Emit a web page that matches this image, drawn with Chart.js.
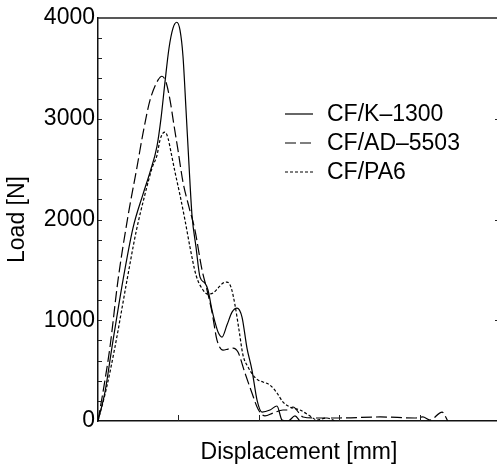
<!DOCTYPE html>
<html>
<head>
<meta charset="utf-8">
<script src="https://cdn.jsdelivr.net/npm/chart.js@4"></script>
<style>
  html, body { margin: 0; padding: 0; background: #fff; overflow: hidden; }
  canvas { display: block; }
</style>
</head>
<body>
<canvas id="chart" width="502" height="470"></canvas>
<script>
// displacement [mm] and load [N]
const k1300X = [0, 0.087, 0.174, 0.311, 0.435, 0.56, 0.647, 0.734, 0.784, 0.833, 0.883, 0.933, 0.979, 1.02, 1.057, 1.095, 1.132, 1.169, 1.219, 1.269, 1.331, 1.368, 1.418, 1.455, 1.493, 1.542, 1.604, 1.667, 1.729, 1.791, 1.853, 1.915, 1.978, 2.04, 2.139, 2.226, 2.289, 2.363, 2.45, 2.51];
const k1300Y = [0, 288, 734, 1399, 1915, 2252, 2470, 2728, 3006, 3363, 3700, 3899, 3958, 3879, 3621, 3085, 2540, 2044, 1726, 1428, 1369, 1300, 1101, 982, 883, 833, 952, 1081, 1121, 1032, 724, 506, 208, 89, 109, 149, 10, 0, 50, 0];

const ad5503X = [0, 0.087, 0.149, 0.249, 0.373, 0.485, 0.56, 0.647, 0.746, 0.796, 0.846, 0.896, 0.945, 0.995, 1.057, 1.132, 1.206, 1.294, 1.356, 1.418, 1.48, 1.555, 1.617, 1.679, 1.741, 1.828, 1.915, 1.99, 2.077, 2.177, 2.301, 2.363, 2.425, 2.55, 2.7, 3.01, 3.51, 3.94, 4.04, 4.13, 4.28, 4.35];
const ad5503Y = [0, 407, 734, 1399, 2033, 2520, 2857, 3184, 3383, 3422, 3363, 3184, 2936, 2688, 2371, 2123, 1895, 1498, 1300, 1081, 803, 704, 714, 724, 684, 476, 278, 119, 50, 79, 109, 109, 139, 40, 30, 30, 40, 30, 40, 10, 89, 0];

const pa6X = [0, 0.1, 0.211, 0.361, 0.473, 0.585, 0.672, 0.734, 0.771, 0.808, 0.833, 0.871, 0.908, 0.958, 1.02, 1.082, 1.144, 1.219, 1.306, 1.368, 1.43, 1.493, 1.555, 1.604, 1.654, 1.704, 1.754, 1.803, 1.866, 1.928, 1.99, 2.052, 2.139, 2.226, 2.301, 2.388, 2.512, 2.637, 2.724, 2.848, 2.95];
const pa6Y = [0, 308, 734, 1399, 1875, 2252, 2510, 2639, 2788, 2857, 2867, 2807, 2668, 2470, 2242, 1994, 1726, 1448, 1300, 1260, 1270, 1319, 1369, 1379, 1329, 1151, 903, 655, 536, 456, 407, 387, 357, 278, 188, 139, 109, 50, 10, 30, 0];

const seriesNames = ["CF/K\u20131300", "CF/AD\u20135503", "CF/PA6"];
const dashes = [[], [11, 4], [3, 2]];
const yTicks = [0, 1000, 2000, 3000, 4000];
const xTicks = [1, 2, 3, 4];

const FONT = "'Liberation Sans', Arial, sans-serif";

function toPoints(xs, ys) {
  return xs.map((x, i) => ({ x: x, y: ys[i] }));
}

// inward tick marks, top/right frame and the legend inside the plot
const frameAndLegend = {
  id: "frameAndLegend",
  afterDraw(chart) {
    const ctx = chart.ctx;
    const area = chart.chartArea;
    const xs = chart.scales.x;
    const ys = chart.scales.y;
    ctx.save();
    ctx.strokeStyle = "#222";
    ctx.lineWidth = 1.3;
    ctx.beginPath();
    ctx.moveTo(area.left, area.top);
    ctx.lineTo(area.right, area.top);
    ctx.lineTo(area.right, area.bottom);
    ctx.stroke();

    ctx.lineWidth = 1;
    ctx.beginPath();
    for (let v = 200; v < 4000; v += 200) {
      const py = Math.round(ys.getPixelForValue(v)) + 0.5;
      ctx.moveTo(area.left, py);
      ctx.lineTo(area.left + 4, py);
      const len = v % 1000 === 0 ? 5 : 2;
      ctx.moveTo(area.right, py);
      ctx.lineTo(area.right - len, py);
    }
    xTicks.forEach((v) => {
      const px = Math.round(xs.getPixelForValue(v)) + 0.5;
      ctx.moveTo(px, area.bottom);
      ctx.lineTo(px, area.bottom - 6);
    });
    ctx.stroke();

    // legend
    const rows = [114, 143, 172];
    ctx.font = "23px " + FONT;
    ctx.textBaseline = "middle";
    ctx.fillStyle = "#000";
    seriesNames.forEach((name, i) => {
      ctx.beginPath();
      ctx.setLineDash(dashes[i]);
      ctx.lineWidth = 1.2;
      ctx.strokeStyle = "#000";
      ctx.moveTo(285, rows[i]);
      ctx.lineTo(313, rows[i]);
      ctx.stroke();
      ctx.setLineDash([]);
      ctx.fillText(name, 327, rows[i] + 1);
    });
    ctx.restore();
  },
};

const lineDataset = (label, xs, ys, dash) => ({
  label: label,
  data: toPoints(xs, ys),
  borderColor: "#000",
  borderWidth: 1.2,
  borderDash: dash,
  pointRadius: 0,
  fill: false,
  cubicInterpolationMode: "monotone",
});

new Chart(document.getElementById("chart"), {
  type: "line",
  data: {
    datasets: [
      lineDataset(seriesNames[0], k1300X, k1300Y, dashes[0]),
      lineDataset(seriesNames[1], ad5503X, ad5503Y, dashes[1]),
      lineDataset(seriesNames[2], pa6X, pa6Y, dashes[2]),
    ],
  },
  options: {
    responsive: false,
    animation: false,
    layout: { padding: { left: 0, right: 2, top: 18, bottom: 0 } },
    plugins: {
      legend: { display: false },
      tooltip: { enabled: false },
    },
    scales: {
      x: {
        type: "linear",
        min: 0,
        max: 5,
        grid: { display: false },
        border: { display: true, color: "#111", width: 1.5 },
        ticks: { display: false },
        title: {
          display: true,
          text: "Displacement [mm]",
          color: "#000",
          font: { family: FONT, size: 23 },
        },
        afterFit(scale) {
          scale.height = 49;
        },
      },
      y: {
        min: 0,
        max: 4000,
        grid: { display: false, drawTicks: false },
        border: { display: true, color: "#111", width: 1.5 },
        afterBuildTicks(scale) {
          scale.ticks = yTicks.map((v) => ({ value: v }));
        },
        ticks: {
          color: "#000",
          padding: 3,
          font: { family: FONT, size: 23 },
          callback: (v) => String(v),
        },
        title: {
          display: true,
          text: "Load [N]",
          color: "#000",
          font: { family: FONT, size: 23 },
        },
        afterFit(scale) {
          scale.width = 98;
        },
      },
    },
  },
  plugins: [frameAndLegend],
});
</script>
</body>
</html>
